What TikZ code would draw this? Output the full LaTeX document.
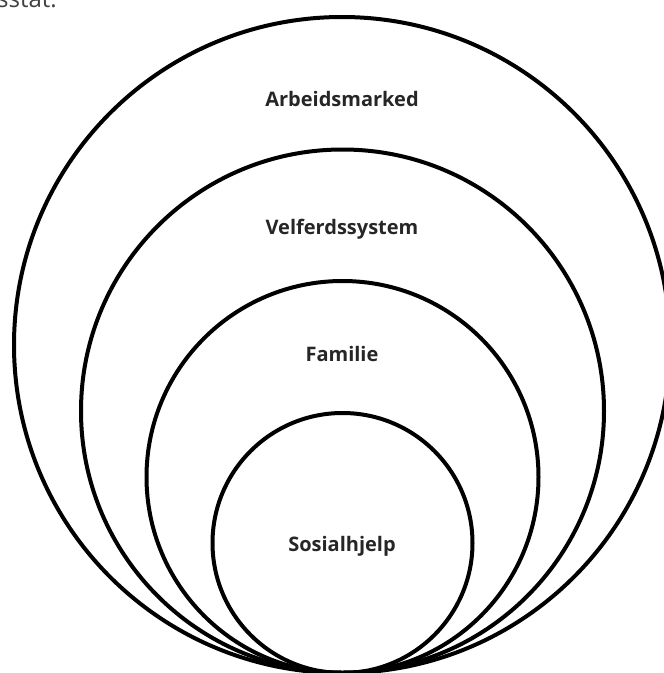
\documentclass[tikz,border=0pt]{standalone}
\usepackage{fontspec}
\setmainfont{Open Sans}
\begin{document}
\begin{tikzpicture}[x=1pt,y=-1pt,
  ring/.style={circle, draw=black, line width=4pt, inner sep=0pt, fill=none},
  lbl/.style={font=\fontsize{20}{24}\selectfont\bfseries, text=black!85, inner sep=0pt, anchor=base}]
\useasboundingbox (0,0) rectangle (664,673);
\clip (0,0) rectangle (664,673);
\node[ring, minimum size=656pt] (arb) at (342,345) {};
\node[ring, minimum size=523pt] (vel) at (342.5,411) {};
\node[ring, minimum size=392pt] (fam) at (342.5,477) {};
\node[ring, minimum size=260pt] (sos) at (342.5,543) {};
\node[lbl] (tarb) at (342,106.5) {Arbeidsmarked};
\node[lbl] (tvel) at (342,234) {Velferdssystem};
\node[lbl] (tfam) at (342,361) {Familie};
\node[lbl] (tsos) at (342,551) {Sosialhjelp};
\node[font=\fontsize{24}{28}\selectfont, text=black!75, inner sep=0pt, anchor=base west] (top) at (-3,7) {sstat.};
\end{tikzpicture}
\end{document}
